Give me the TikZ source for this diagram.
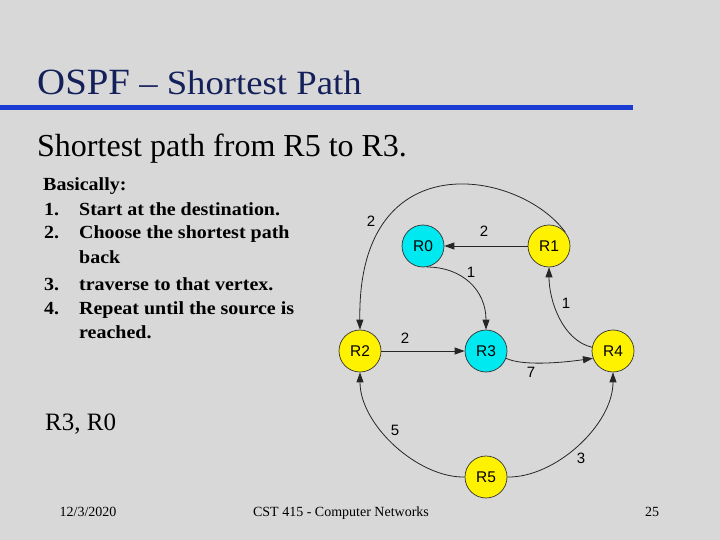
\documentclass[tikz,border=0pt]{standalone}
\usepackage{fontspec}
\setmainfont{Liberation Serif}
\newfontfamily\arialf{Liberation Sans}
\usetikzlibrary{arrows.meta}
\definecolor{bgc}{RGB}{216,216,216}
\definecolor{titlec}{RGB}{20,32,90}
\definecolor{rulec}{RGB}{25,60,210}
\definecolor{cyanc}{RGB}{0,232,240}
\definecolor{yellc}{RGB}{255,242,0}
\definecolor{edgec}{RGB}{50,50,50}
\tikzset{
  router/.style={circle, draw=edgec, line width=0.7pt, minimum size=42pt, inner sep=0pt, font=\arialf\fontsize{15.5}{15.5}\selectfont},
  rcyan/.style={router, fill=cyanc},
  ryel/.style={router, fill=yellc},
  link/.style={draw=black!85, line width=0.8pt, -{Triangle[length=10pt,width=7pt]}},
  wlabel/.style={font=\arialf\fontsize{15}{15}\selectfont, inner sep=0pt},
  listtxt/.style={anchor=base west, inner sep=0pt, font=\bfseries\fontsize{18.5}{18.5}\selectfont},
  foot/.style={anchor=base, inner sep=0pt, font=\fontsize{14}{14}\selectfont}
}
\begin{document}
\begin{tikzpicture}[x=1pt,y=-1pt]
\useasboundingbox (0,0) rectangle (720,540);
\fill[bgc] (0,0) rectangle (720,540);
% title
\node[anchor=base west, inner sep=0pt, text=titlec] (title) at (37,95)
  {\scalebox{1.05}[1]{\fontsize{37}{37}\selectfont OSPF}\scalebox{1.08}[1]{\fontsize{34}{34}\selectfont{} – Shortest Path}};
\fill[rulec] (0,105) rectangle (633,110);
\node[anchor=base west, inner sep=0pt, font=\fontsize{32}{32}\selectfont] (sub) at (37,157) {Shortest path from R5 to R3.};
% list
\node[listtxt] (l0) at (43,191) {\scalebox{1.08}[1]{Basically:}};
\node[listtxt] (n1) at (44,215) {\scalebox{1.08}[1]{1.}};
\node[listtxt] (t1) at (79,215) {\scalebox{1.08}[1]{Start at the destination.}};
\node[listtxt] (n2) at (44,239) {\scalebox{1.08}[1]{2.}};
\node[listtxt] (t2) at (79,239) {\scalebox{1.08}[1]{Choose the shortest path}};
\node[listtxt] (t2b) at (79,263) {\scalebox{1.08}[1]{back}};
\node[listtxt] (n3) at (44,290) {\scalebox{1.08}[1]{3.}};
\node[listtxt] (t3) at (79,290) {\scalebox{1.08}[1]{traverse to that vertex.}};
\node[listtxt] (n4) at (44,314) {\scalebox{1.08}[1]{4.}};
\node[listtxt] (t4) at (79,314) {\scalebox{1.08}[1]{Repeat until the source is}};
\node[listtxt] (t4b) at (79,338) {\scalebox{1.08}[1]{reached.}};
\node[anchor=base west, inner sep=0pt, font=\fontsize{25}{25}\selectfont] (ans) at (45,430) {R3, R0};
% footer
\node[foot] (date) at (88,516) {12/3/2020};
\node[foot] (course) at (341,516) {CST 415 - Computer Networks};
\node[foot] (page) at (652,516) {25};
% graph
\node[rcyan] (R0) at (423,246) {R0};
\node[ryel] (R1) at (549,246) {R1};
\node[ryel] (R2) at (360,351) {R2};
\node[rcyan] (R3) at (486,351) {R3};
\node[ryel] (R4) at (613,351) {R4};
\node[ryel] (R5) at (486,477) {R5};
\draw[link] (R1) -- (R0);
\draw[link] (R0.-80) .. controls (462,267) and (486,290) .. (R3.north);
\draw[link] (R1.40) .. controls (520,170) and (357,140) .. (R2.north);
\draw[link] (R2) -- (R3);
\draw[link] (R3.-20) .. controls (522,366) and (560,363) .. (R4.-160);
\draw[link] (R4.170) .. controls (562,340) and (549,300) .. (R1.south);
\draw[link] (R5.west) .. controls (418,478) and (360,425) .. (R2.south);
\draw[link] (R5.east) .. controls (555,478) and (613,425) .. (R4.south);
\node[wlabel] (w10) at (484,231) {2};
\node[wlabel] (w03) at (471,272) {1};
\node[wlabel] (w12) at (371,221) {2};
\node[wlabel] (w23) at (405,338) {2};
\node[wlabel] (w34) at (531,372) {7};
\node[wlabel] (w41) at (566,303) {1};
\node[wlabel] (w52) at (395,430) {5};
\node[wlabel] (w54) at (581,458) {3};
\end{tikzpicture}
\end{document}
